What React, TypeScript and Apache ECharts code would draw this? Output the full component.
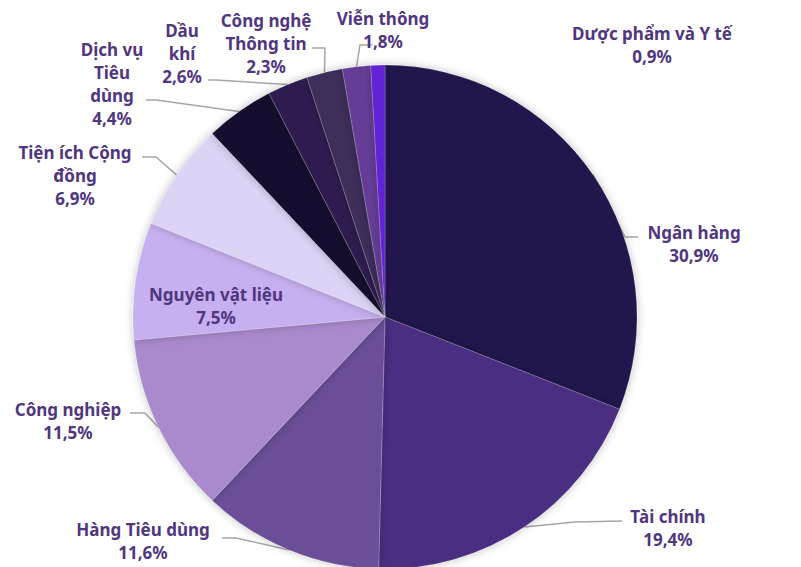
import React, { useEffect, useRef } from "react";
import * as echarts from "echarts";

const categories = [
  "Ngân hàng",
  "Tài chính",
  "Hàng Tiêu dùng",
  "Công nghiệp",
  "Nguyên vật liệu",
  "Tiện ích Cộng đồng",
  "Dịch vụ Tiêu dùng",
  "Dầu khí",
  "Công nghệ Thông tin",
  "Viễn thông",
  "Dược phẩm và Y tế",
];
const labelNames = [
  "Ngân hàng",
  "Tài chính",
  "Hàng Tiêu dùng",
  "Công nghiệp",
  "Nguyên vật liệu",
  "Tiện ích Cộng\nđồng",
  "Dịch vụ\nTiêu\ndùng",
  "Dầu\nkhí",
  "Công nghệ\nThông tin",
  "Viễn thông",
  "Dược phẩm và Y tế",
];
const values = [30.9, 19.4, 11.6, 11.5, 7.5, 6.9, 4.4, 2.6, 2.3, 1.8, 0.9];
const colors = [
  "#24184d",
  "#4a2d82",
  "#6a5098",
  "#a98bcd",
  "#c6b0ef",
  "#ddd3f5",
  "#140e2e",
  "#2d1c4f",
  "#3d2e5a",
  "#653e96",
  "#6222d6",
];

// label placement (layout only): center of text block, bend and end of leader line
const labelPlace: { x: number; y: number; bend?: number[]; end?: number[] }[] = [
  { x: 694, y: 244, bend: [625, 237], end: [638, 237] },
  { x: 668, y: 528, bend: [575, 522], end: [622, 521] },
  { x: 143, y: 541, bend: [236, 538], end: [222, 538] },
  { x: 68, y: 421, bend: [145, 413], end: [130, 413] },
  { x: 216, y: 306 },
  { x: 75, y: 175, bend: [156, 157], end: [142, 157] },
  { x: 112, y: 84, bend: [156, 100], end: [146, 100] },
  { x: 182, y: 53, bend: [216, 80], end: [208, 80] },
  { x: 266, y: 43, bend: [325, 48], end: [312, 48] },
  { x: 383, y: 30, bend: [360, 45], end: [372, 45] },
  { x: 652, y: 45 },
];

export default function App() {
  const ref = useRef<HTMLDivElement>(null);
  useEffect(() => {
    document.body.style.margin = "0";
    if (!ref.current) return;
    const chart = echarts.init(ref.current, null, { renderer: "svg" });
    chart.setOption({
      animation: false,
      backgroundColor: "#ffffff",
      series: [
        {
          type: "pie",
          center: [385, 317],
          radius: 252,
          startAngle: 90,
          clockwise: true,
          avoidLabelOverlap: false,
          itemStyle: {
            borderColor: "rgba(255,255,255,0.25)",
            borderWidth: 0.6,
            shadowBlur: 8,
            shadowColor: "rgba(0,0,0,0.25)",
          },
          label: {
            show: true,
            position: "outside",
            color: "#50367f",
            fontFamily: "Noto Sans",
            fontWeight: 700,
            fontSize: 17,
            lineHeight: 23,
            formatter: (p: any) =>
              labelNames[p.dataIndex] + "\n" + String(p.value).replace(".", ",") + "%",
          },
          labelLine: {
            show: true,
            lineStyle: { color: "#a6a6a6", width: 1.5 },
          },
          labelLayout: (p: any) => {
            const L = labelPlace[p.dataIndex];
            const res: any = { x: L.x, y: L.y, align: "center", verticalAlign: "middle" };
            if (L.bend && p.labelLinePoints) {
              res.labelLinePoints = [p.labelLinePoints[0], L.bend, L.end];
            }
            return res;
          },
          data: values.map((v, i) => ({
            name: categories[i],
            value: v,
            itemStyle: { color: colors[i] },
            labelLine: { show: !!labelPlace[i].bend },
          })),
        },
      ],
    });
    return () => chart.dispose();
  }, []);
  return <div ref={ref} style={{ width: 801, height: 567 }} />;
}
